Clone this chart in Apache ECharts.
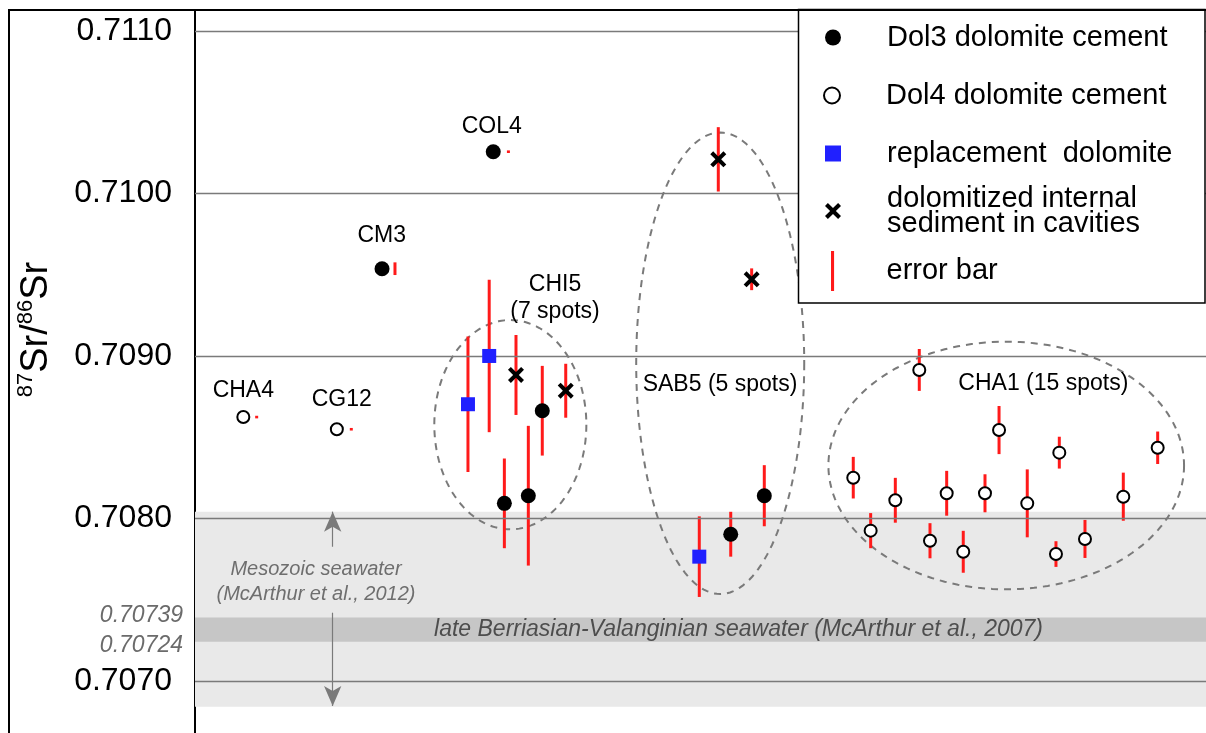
<!DOCTYPE html>
<html>
<head>
<meta charset="utf-8">
<script src="https://cdn.jsdelivr.net/npm/echarts@6/dist/echarts.min.js"></script>
<style>
html,body{margin:0;padding:0;background:#fff;}
#chart{width:1206px;height:733px;}
</style>
</head>
<body>
<div id="chart"></div>
<script>
// ---------------- DATA ----------------
// y axis (87Sr/86Sr) gridline values and their tick labels
const yTickValues = [0.7070, 0.7080, 0.7090, 0.7100, 0.7110];
const yTickLabels = ['0.7070', '0.7080', '0.7090', '0.7100', '0.7110'];
// late Berriasian-Valanginian seawater band edges
const bandEdgeValues = [0.70739, 0.70724];
const bandEdgeLabels = ['0.70739', '0.70724'];
// seawater ranges
const mesozoicRange = [0.70684, 0.70804];
const berriasianRange = [0.70724, 0.70739];

// Sample positions along the (unlabelled) horizontal axis, values, and half error bars
// Dol3 dolomite cement: COL4, CM3, CHI5 x3, SAB5 x2
const dol3X = [29.5, 18.5, 34.35, 30.6, 32.97, 56.31, 52.99];
const dol3Y = [0.710256, 0.709536, 0.708662, 0.708092, 0.708139, 0.708139, 0.707902];
const dol3Err = [0.000008, 0.000039, 0.000276, 0.000276, 0.00043, 0.000188, 0.000138];
const dol3ErrShift = [1.5, 1.28, 0, 0, 0, 0, 0];

// Dol4 dolomite cement: CHA4, CG12, CHA1 (15 spots)
const dol4X = [4.78, 14.03, 65.11, 66.83, 69.27, 71.64, 72.70, 74.35, 75.99, 78.14, 79.53, 82.32, 85.16, 85.49, 88.03, 91.82, 95.22];
const dol4Y = [0.708623, 0.708548, 0.708250, 0.707924, 0.708111, 0.708913, 0.707862, 0.708154, 0.707794, 0.708154, 0.708543, 0.708092, 0.707780, 0.708404, 0.707873, 0.708133, 0.708434];
const dol4Err = [0.000008, 0.000008, 0.000128, 0.000108, 0.000138, 0.000129, 0.000108, 0.000138, 0.000129, 0.000117, 0.000148, 0.000209, 0.000079, 0.000098, 0.000117, 0.000148, 0.000100];
const dol4ErrShift = [1.32, 1.43, 0, 0, 0, 0, 0, 0, 0, 0, 0, 0, 0, 0, 0, 0, 0];

// replacement dolomite: CHI5 x2, SAB5
const replX = [27.0, 29.1, 49.88];
const replY = [0.708702, 0.708999, 0.707764];
const replErr = [0.000417, 0.000469, 0.000248];

// dolomitized internal sediment in cavities: CHI5 x2, SAB5 x2
const sedX = [31.75, 36.67, 51.76, 55.06];
const sedY = [0.708882, 0.708785, 0.710209, 0.709471];
const sedErr = [0.000246, 0.000166, 0.000198, 0.000067];

// sample groups (dashed ellipses): centre x, centre y, half-width (x units), half-height (y units)
const groupCX = [31.19, 51.95, 80.24];
const groupCY = [0.708576, 0.708954, 0.708325];
const groupRX = [7.52, 8.31, 17.59];
const groupRY = [0.000644, 0.00142, 0.000762];

// sample name annotations
const sampleNames = ['COL4', 'CM3', 'CHA4', 'CG12', 'CHI5\n(7 spots)', 'SAB5 (5 spots)', 'CHA1 (15 spots)'];
const sampleNameX = [29.35, 18.47, 4.78, 14.51, 35.61, 51.93, 83.91];
const sampleNameY = [0.710410, 0.709737, 0.708783, 0.708728, 0.709354, 0.708820, 0.708831];

// seawater annotations
const mesozoicText = 'Mesozoic seawater\n(McArthur et al., 2012)';
const mesozoicTextPos = [11.97, 0.70761];
const berriasianText = 'late Berriasian-Valanginian seawater (McArthur et al., 2007)';
const berriasianTextPos = [53.76, 0.707313];
// Mesozoic range arrow (x, upper segment, lower segment)
const arrowX = 13.62;
const arrowUpper = [0.708041, 0.707825];
const arrowLower = [0.707419, 0.706845];

// legend names
const seriesNames = ['Dol3 dolomite cement', 'Dol4 dolomite cement', 'replacement  dolomite', 'dolomitized internal sediment in cavities', 'error bar'];

// ---------------- CHART ----------------
const FONT = "'Liberation Sans', Arial, Helvetica, sans-serif";
const yMin = 0.7066788, yMax = 0.711128;
const xSymbol = 'path://M1.8,0L5,3.2L8.2,0L10,1.8L6.8,5L10,8.2L8.2,10L5,6.8L1.8,10L0,8.2L3.2,5L0,1.8Z';
const squareSymbol = 'path://M0,0H10V10H0Z';
const errColor = '#ff1a1a';

function pairs(xs, ys) { return xs.map((x, i) => [x, ys[i]]); }

const errData = [];
function addErr(xs, ys, es, shifts) {
  xs.forEach((x, i) => errData.push([x + (shifts ? shifts[i] : 0), ys[i], es[i]]));
}
addErr(dol3X, dol3Y, dol3Err, dol3ErrShift);
addErr(dol4X, dol4Y, dol4Err, dol4ErrShift);
addErr(replX, replY, replErr, null);
addErr(sedX, sedY, sedErr, null);

const groupData = groupCX.map((x, i) => [x, groupCY[i], groupRX[i], groupRY[i]]);

const gridLineData = yTickValues.map((v, i) => ({
  yAxis: v,
  label: {
    show: true, position: 'start', distance: 23, formatter: yTickLabels[i],
    color: '#000', fontSize: 32, fontFamily: FONT
  }
}));
const bandEdgeData = bandEdgeValues.map((v, i) => ({
  yAxis: v,
  lineStyle: { color: 'rgba(0,0,0,0)', width: 0 },
  label: {
    show: true, position: 'start', distance: 12, formatter: bandEdgeLabels[i],
    color: '#6b6b6b', fontSize: 23, fontStyle: 'italic', fontFamily: FONT,
    offset: [0, i === 0 ? -2 : 4]
  }
}));

// legend: one component per entry so each row sits where the reference puts it
const legendTops = [23, 81, 139, 184, 251];
const legendLefts = [825, 823, 825, 825, 831];
function legendFormatter(name) {
  if (name === seriesNames[3]) {
    return '{s| }{m|dolomitized internal}\n{s| }{m|sediment in cavities}';
  }
  return '{s| }{t|' + name + '}';
}
const legendText = {
  color: '#000', fontFamily: FONT,
  rich: {
    s: { width: 41 },
    t: { fontSize: 29, color: '#000', fontFamily: FONT },
    m: { fontSize: 29, lineHeight: 25, color: '#000', fontFamily: FONT }
  }
};
const legends = seriesNames.map((n, i) => ({
  orient: 'vertical', left: legendLefts[i], top: legendTops[i], padding: 0,
  itemWidth: 16, itemHeight: 40, selectedMode: false, z: 20,
  data: [i === 4 ? { name: n, icon: 'path://M0,0H1V13H0Z' } : { name: n }],
  formatter: legendFormatter,
  textStyle: legendText
}));

const chart = echarts.init(document.getElementById('chart'), null, { renderer: 'canvas' });

const option = {
  animation: false,
  backgroundColor: '#fff',
  textStyle: { fontFamily: FONT },
  grid: { left: 195, top: 10, right: 0, bottom: 0, containLabel: false, outerBoundsMode: 'none' },
  xAxis: {
    type: 'value', min: 0, max: 100,
    show: false, splitLine: { show: false }
  },
  yAxis: {
    type: 'value', min: yMin, max: yMax,
    axisLine: { show: true, lineStyle: { color: '#000', width: 2 } },
    axisTick: { show: false },
    axisLabel: { show: false },
    splitLine: { show: false },
    name: '{pad| }{sup|87}{big|Sr/}{sup|86}{big|Sr}',
    nameLocation: 'middle',
    nameRotate: 90,
    nameGap: 136,
    nameTextStyle: {
      color: '#000', fontFamily: FONT,
      rich: {
        pad: { width: 84 },
        sup: { fontSize: 22, lineHeight: 20, verticalAlign: 'top', fontFamily: FONT, color: '#000' },
        big: { fontSize: 38, lineHeight: 44, verticalAlign: 'middle', fontFamily: FONT, color: '#000' }
      }
    }
  },
  legend: legends,
  graphic: [
    { type: 'rect', z: 10, silent: true, shape: { x: 798.5, y: 9.5, width: 406.5, height: 293.5 }, style: { fill: '#fff', stroke: '#000', lineWidth: 1.5 } },
    { type: 'line', z: 11, silent: true, shape: { x1: 8, y1: 10, x2: 1206, y2: 10 }, style: { stroke: '#000', lineWidth: 2 } },
    { type: 'line', z: 11, silent: true, shape: { x1: 9, y1: 10, x2: 9, y2: 733 }, style: { stroke: '#000', lineWidth: 2 } }
  ],
  series: [
    {
      name: 'seawater bands', type: 'scatter', data: [], z: 1, silent: true,
      markArea: {
        silent: true,
        data: [
          [{ yAxis: mesozoicRange[0], itemStyle: { color: '#e9e9e9', opacity: 1 } }, { yAxis: mesozoicRange[1] }],
          [{ yAxis: berriasianRange[0], itemStyle: { color: '#c6c6c6', opacity: 1 } }, { yAxis: berriasianRange[1] }]
        ]
      }
    },
    {
      name: 'gridlines', type: 'scatter', data: [], z: 2, silent: true,
      markLine: {
        silent: true, symbol: 'none', precision: 6,
        lineStyle: { color: '#7a7a7a', width: 1.3, type: 'solid', opacity: 1 },
        data: gridLineData.concat(bandEdgeData)
      }
    },
    {
      name: 'mesozoic arrow', type: 'scatter', data: [], z: 2, silent: true,
      markLine: {
        silent: true, symbolSize: [13, 20], precision: 6,
        lineStyle: { color: '#7a7a7a', width: 1.2, type: 'solid', opacity: 1 },
        itemStyle: { color: '#666', opacity: 1 },
        label: { show: false },
        data: [
          [{ coord: [arrowX, arrowUpper[0]], symbol: 'arrow' }, { coord: [arrowX, arrowUpper[1]], symbol: 'none' }],
          [{ coord: [arrowX, arrowLower[0]], symbol: 'none' }, { coord: [arrowX, arrowLower[1]], symbol: 'arrow' }]
        ]
      }
    },
    {
      name: 'sample groups', type: 'custom', z: 3, silent: true,
      data: groupData,
      encode: { x: 0, y: 1 },
      renderItem: function (params, api) {
        const c = api.coord([api.value(0), api.value(1)]);
        const s = api.size([api.value(2), api.value(3)]);
        const pts = [];
        const n = 160;
        for (let i = 0; i < n; i++) {
          const t = i / n * Math.PI * 2;
          pts.push([c[0] + s[0] * Math.cos(t), c[1] + s[1] * Math.sin(t)]);
        }
        return {
          type: 'polygon', shape: { points: pts },
          style: { fill: 'none', stroke: '#7a7a7a', lineWidth: 2, lineDash: [7, 6] }
        };
      }
    },
    {
      name: seriesNames[4], type: 'custom', z: 4, silent: true,
      itemStyle: { color: errColor, opacity: 1 },
      data: errData,
      encode: { x: 0, y: 1 },
      renderItem: function (params, api) {
        const x = api.value(0), y = api.value(1), e = api.value(2);
        const p1 = api.coord([x, y - e]);
        const p2 = api.coord([x, y + e]);
        return {
          type: 'line',
          shape: { x1: p1[0], y1: p1[1], x2: p2[0], y2: p2[1] },
          style: { stroke: errColor, lineWidth: 3 }
        };
      }
    },
    {
      name: seriesNames[0], type: 'scatter', z: 5, symbol: 'circle', symbolSize: 15,
      itemStyle: { color: '#000', opacity: 1 },
      data: pairs(dol3X, dol3Y)
    },
    {
      name: seriesNames[1], type: 'scatter', z: 5, symbol: 'circle', symbolSize: 12,
      itemStyle: { color: '#fff', borderColor: '#000', borderWidth: 2, opacity: 1 },
      data: pairs(dol4X, dol4Y)
    },
    {
      name: seriesNames[2], type: 'scatter', z: 5, symbol: squareSymbol, symbolSize: 14,
      itemStyle: { color: '#2020ff', opacity: 1 },
      data: pairs(replX, replY)
    },
    {
      name: seriesNames[3], type: 'scatter', z: 5, symbol: xSymbol, symbolSize: 16,
      itemStyle: { color: '#000', opacity: 1 },
      data: pairs(sedX, sedY)
    },
    {
      name: 'sample names', type: 'scatter', z: 6, silent: true, symbolSize: 0,
      itemStyle: { opacity: 1 },
      data: sampleNames.map((n, i) => ({ name: n, value: [sampleNameX[i], sampleNameY[i]] })),
      label: {
        show: true, position: 'inside', formatter: '{b}', opacity: 1,
        color: '#000', fontSize: 23, lineHeight: 27, fontFamily: FONT, align: 'center'
      }
    },
    {
      name: 'seawater notes', type: 'scatter', z: 6, silent: true, symbolSize: 0,
      itemStyle: { opacity: 1 },
      data: [
        {
          name: mesozoicText, value: mesozoicTextPos,
          label: { color: '#6e6e6e', fontSize: 20, lineHeight: 25, fontStyle: 'italic' }
        },
        {
          name: berriasianText, value: berriasianTextPos,
          label: { color: '#4d4d4d', fontSize: 23, fontStyle: 'italic' }
        }
      ],
      label: { show: true, position: 'inside', formatter: '{b}', fontFamily: FONT, align: 'center', opacity: 1 }
    }
  ]
};

chart.setOption(option);
</script>
</body>
</html>
